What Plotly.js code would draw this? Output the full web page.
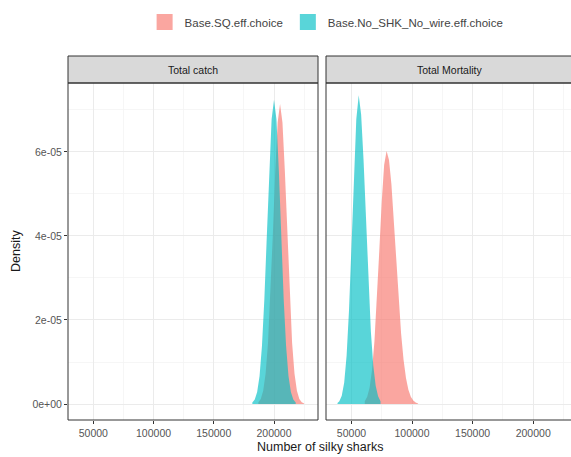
<!DOCTYPE html>
<html>
<head>
<meta charset="utf-8">
<script src="https://cdn.plot.ly/plotly-3.0.1.min.js"></script>
<style>html,body{margin:0;padding:0;background:#fff;}#chart{width:571px;height:457px;}</style>
</head>
<body>
<div id="chart"></div>
<script>
// ---- data ----
var seriesNames = ["Base.SQ.eff.choice", "Base.No_SHK_No_wire.eff.choice"];
var panelTitles = ["Total catch", "Total Mortality"];

// Total catch, Base.SQ.eff.choice
var catchSQ_x = [187000,189000,191000,193000,195000,197000,199000,201000,203000,205000,207000,209000,211000,213000,215000,217000,219000,221000,223000,225000];
var catchSQ_y = [0.041e-5,0.120e-5,0.314e-5,0.719e-5,1.450e-5,2.573e-5,4.022e-5,5.533e-5,6.697e-5,7.140e-5,6.697e-5,5.533e-5,4.022e-5,2.573e-5,1.450e-5,0.719e-5,0.314e-5,0.120e-5,0.041e-5,0.012e-5];
// Total catch, Base.No_SHK_No_wire.eff.choice
var catchNS_x = [182000,184000,186000,188000,190000,192000,194000,196000,198000,200000,202000,204000,206000,208000,210000,212000,214000,216000,218000];
var catchNS_y = [0.034e-5,0.105e-5,0.284e-5,0.670e-5,1.387e-5,2.513e-5,3.994e-5,5.557e-5,6.777e-5,7.240e-5,6.777e-5,5.557e-5,3.994e-5,2.513e-5,1.387e-5,0.670e-5,0.284e-5,0.105e-5,0.034e-5];
// Total Mortality, Base.SQ.eff.choice
var mortSQ_x = [61000,63000,65000,67000,69000,71000,73000,75000,77000,79000,81000,83000,85000,87000,89000,91000,93000,95000,97000,99000,101000,103000,105000];
var mortSQ_y = [0.067e-5,0.172e-5,0.396e-5,0.815e-5,1.501e-5,2.475e-5,3.651e-5,4.820e-5,5.695e-5,6.020e-5,5.809e-5,5.222e-5,4.371e-5,3.407e-5,2.475e-5,1.673e-5,1.055e-5,0.618e-5,0.338e-5,0.172e-5,0.082e-5,0.036e-5,0.015e-5];
// Total Mortality, Base.No_SHK_No_wire.eff.choice
var mortNS_x = [38500,40000,42000,44000,46000,48000,50000,52000,54000,56000,58000,60000,62000,64000,66000,68000,70000,72000,74000];
var mortNS_y = [0.025e-5,0.064e-5,0.195e-5,0.509e-5,1.149e-5,2.236e-5,3.751e-5,5.430e-5,6.780e-5,7.350e-5,6.893e-5,5.801e-5,4.353e-5,2.912e-5,1.736e-5,0.923e-5,0.437e-5,0.185e-5,0.069e-5];

var xTickVals = [50000,100000,150000,200000];
var xTickText = ["50000","100000","150000","200000"];
var yTickVals = [0,2e-5,4e-5,6e-5];
var yTickText = ["0e+00","2e-05","4e-05","6e-05"];

// ---- styling ----
var fillSQ = "rgba(248,118,109,0.65)";
var fillNS = "rgba(0,191,196,0.65)";
var W = 571, H = 457;
function px(x){return x/W;}
function py(y){return 1 - y/H;}

var pL = [68, 318], pR = [326, 571], pTop = 83, pBot = 420, stripTop = 56;

function area(x, y, color, xa, ya){
  return {type:"scatter", mode:"lines", x:x, y:y, fill:"tozeroy", fillcolor:color,
          line:{width:0, color:color}, showlegend:false, hoverinfo:"skip", xaxis:xa, yaxis:ya};
}

var traces = [
  area(catchSQ_x, catchSQ_y, fillSQ, "x", "y"),
  area(catchNS_x, catchNS_y, fillNS, "x", "y"),
  area(mortSQ_x, mortSQ_y, fillSQ, "x2", "y2"),
  area(mortNS_x, mortNS_y, fillNS, "x2", "y2"),
  {type:"scatter", mode:"markers", x:[null], y:[null], name:seriesNames[0],
   marker:{symbol:"square", size:20, color:fillSQ}, showlegend:true, xaxis:"x", yaxis:"y"},
  {type:"scatter", mode:"markers", x:[null], y:[null], name:seriesNames[1],
   marker:{symbol:"square", size:20, color:fillNS}, showlegend:true, xaxis:"x", yaxis:"y"}
];

var gridC = "#EBEBEB", minorC = "#F4F4F4", tickFont = {family:"Liberation Sans, Arial, sans-serif", size:10.5, color:"#555"};
function xaxis(dom, rng){
  return {domain:dom, range:rng, tickvals:xTickVals, ticktext:xTickText, tickfont:tickFont,
          ticks:"outside", ticklen:3, tickcolor:"#333", showgrid:true, gridcolor:gridC, gridwidth:1,
          minor:{dtick:25000, tick0:25000, showgrid:true, gridcolor:minorC, gridwidth:0.8},
          zeroline:false, showline:false, fixedrange:true};
}
function yaxis(anchor, labels){
  return {domain:[py(pBot), py(pTop)], range:[-3.8e-6, 7.64e-5], anchor:anchor,
          tickvals:yTickVals, ticktext:yTickText, tickfont:tickFont, showticklabels:labels,
          ticks: labels ? "outside" : "", ticklen:3, tickcolor:"#333",
          showgrid:true, gridcolor:gridC, gridwidth:1,
          minor:{dtick:1e-5, tick0:1e-5, showgrid:true, gridcolor:minorC, gridwidth:0.8},
          zeroline:false, showline:false, fixedrange:true};
}

var layout = {
  width:W, height:H, margin:{l:0, r:0, t:0, b:0},
  paper_bgcolor:"#fff", plot_bgcolor:"#fff",
  font:{family:"Liberation Sans, Arial, sans-serif", color:"#333"},
  xaxis: xaxis([px(pL[0]), px(pL[1])], [29000, 236500]),
  xaxis2: Object.assign(xaxis([px(pR[0]), 1], [29000, 231200]), {anchor:"y2"}),
  yaxis: yaxis("x", true),
  yaxis2: yaxis("x2", false),
  showlegend:true,
  legend:{orientation:"h", x:0.572, xanchor:"center", y:py(22), yanchor:"middle",
          font:{size:11.5, color:"#444"}, itemsizing:"trace", itemwidth:30, tracegroupgap:0,
          bgcolor:"rgba(0,0,0,0)"},
  shapes:[
    {type:"rect", xref:"paper", yref:"paper", x0:px(pL[0]), x1:px(pL[1]), y0:py(pTop), y1:py(stripTop),
     fillcolor:"#D9D9D9", line:{color:"#333", width:1}, layer:"above"},
    {type:"rect", xref:"paper", yref:"paper", x0:px(pR[0]), x1:px(572), y0:py(pTop), y1:py(stripTop),
     fillcolor:"#D9D9D9", line:{color:"#333", width:1}, layer:"above"},
    {type:"rect", xref:"paper", yref:"paper", x0:px(pL[0]), x1:px(pL[1]), y0:py(pBot), y1:py(pTop),
     fillcolor:"rgba(0,0,0,0)", line:{color:"#333", width:1}, layer:"above"},
    {type:"rect", xref:"paper", yref:"paper", x0:px(pR[0]), x1:px(572), y0:py(pBot), y1:py(pTop),
     fillcolor:"rgba(0,0,0,0)", line:{color:"#333", width:1}, layer:"above"}
  ],
  annotations:[
    {xref:"paper", yref:"paper", x:(px(pL[0])+px(pL[1]))/2, y:py((stripTop+pTop)/2), text:panelTitles[0],
     showarrow:false, font:{size:10.5, color:"#1A1A1A"}, xanchor:"center", yanchor:"middle"},
    {xref:"paper", yref:"paper", x:px(450), y:py((stripTop+pTop)/2), text:panelTitles[1],
     showarrow:false, font:{size:10.5, color:"#1A1A1A"}, xanchor:"center", yanchor:"middle"},
    {xref:"paper", yref:"paper", x:px(320), y:py(447), text:"Number of silky sharks",
     showarrow:false, font:{size:12.5, color:"#1A1A1A"}, xanchor:"center", yanchor:"middle"},
    {xref:"paper", yref:"paper", x:px(16), y:py(251), text:"Density", textangle:-90,
     showarrow:false, font:{size:12.5, color:"#1A1A1A"}, xanchor:"center", yanchor:"middle"}
  ]
};

Plotly.newPlot("chart", traces, layout, {staticPlot:true, displayModeBar:false});
</script>
</body>
</html>
